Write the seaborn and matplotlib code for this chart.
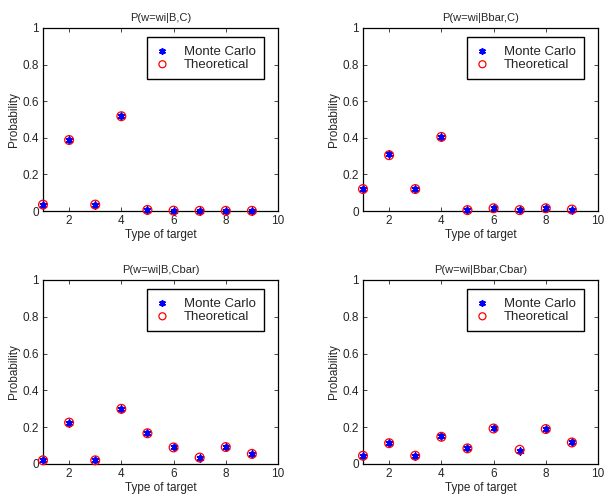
import numpy as np
import pandas as pd
import matplotlib
matplotlib.use("Agg")
import matplotlib.pyplot as plt
import seaborn as sns

sns.set_style("ticks")
plt.rcParams['font.family'] = ['Liberation Sans', 'DejaVu Sans']

targets = [1, 2, 3, 4, 5, 6, 7, 8, 9]
titles = ["P(w=wi|B,C)", "P(w=wi|Bbar,C)", "P(w=wi|B,Cbar)", "P(w=wi|Bbar,Cbar)"]
mc_BC = [0.035, 0.39, 0.035, 0.52, 0.005, 0.002, 0.001, 0.001, 0.001]
th_BC = [0.035, 0.388, 0.035, 0.518, 0.006, 0.002, 0.001, 0.001, 0.001]
mc_BbarC = [0.12, 0.312, 0.12, 0.405, 0.005, 0.015, 0.005, 0.015, 0.008]
th_BbarC = [0.12, 0.305, 0.12, 0.405, 0.005, 0.015, 0.005, 0.015, 0.008]
mc_BCbar = [0.02, 0.225, 0.02, 0.30, 0.167, 0.09, 0.035, 0.092, 0.055]
th_BCbar = [0.02, 0.225, 0.02, 0.30, 0.167, 0.09, 0.035, 0.092, 0.055]
mc_BbarCbar = [0.045, 0.113, 0.045, 0.15, 0.085, 0.197, 0.073, 0.19, 0.117]
th_BbarCbar = [0.045, 0.113, 0.045, 0.148, 0.085, 0.193, 0.077, 0.19, 0.117]

mc_all = [mc_BC, mc_BbarC, mc_BCbar, mc_BbarCbar]
th_all = [th_BC, th_BbarC, th_BCbar, th_BbarCbar]

fig = plt.figure(figsize=(6.04, 5.01), dpi=100)
W, H = 604, 501
boxes = [(43, 28, 278, 211), (363, 28, 598, 211), (43, 280, 278, 464), (363, 280, 598, 464)]

for k in range(4):
    x0, y0, x1, y1 = boxes[k]
    ax = fig.add_axes([x0 / W, 1 - y1 / H, (x1 - x0) / W, (y1 - y0) / H])
    df = pd.DataFrame({"t": targets, "mc": mc_all[k], "th": th_all[k]})
    sns.scatterplot(data=df, x="t", y="mc", ax=ax, marker=(6, 2, 0), s=22,
                    color="blue", linewidth=1.3, edgecolor="blue", label="Monte Carlo",
                    zorder=3, clip_on=False)
    sns.scatterplot(data=df, x="t", y="th", ax=ax, marker="o", s=40,
                    facecolor="none", edgecolor="red", linewidth=0.9, label="Theoretical",
                    zorder=4, clip_on=False)
    ax.set_xlim(1, 10)
    ax.set_ylim(0, 1)
    ax.set_xticks([2, 4, 6, 8, 10])
    ax.set_yticks([0, 0.2, 0.4, 0.6, 0.8, 1])
    ax.set_yticklabels(["0", "0.2", "0.4", "0.6", "0.8", "1"])
    ax.tick_params(direction="in", top=True, right=True, labelsize=8.5, length=3, width=0.6, pad=3)
    for s in ax.spines.values():
        s.set_linewidth(0.9)
        s.set_color("black")
    ax.set_title(titles[k], fontsize=8, pad=5)
    ax.set_xlabel("Type of target", fontsize=8.5, labelpad=1)
    ax.set_ylabel("Probability", fontsize=8.5, labelpad=2)
    lx1 = (264 - 43) / (278 - 43)
    ly1 = 1 - (37 - 28) / (211 - 28)
    leg = ax.legend(loc="upper right", bbox_to_anchor=(lx1, ly1), fontsize=9.5,
                    frameon=True, fancybox=False, edgecolor="black", framealpha=1,
                    borderpad=0.65, handletextpad=1.1, labelspacing=0.05, handlelength=1.0,
                    borderaxespad=0, markerscale=0.8)
    leg.get_frame().set_linewidth(1.0)

fig.savefig("out.png", dpi=100)
